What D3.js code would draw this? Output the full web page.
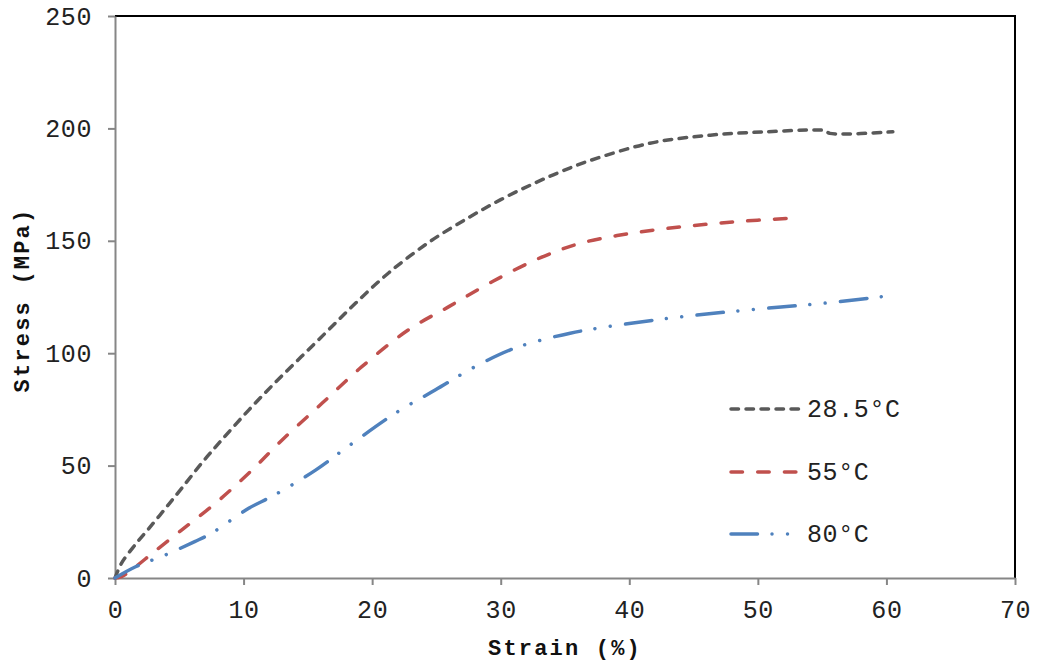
<!DOCTYPE html>
<html><head><meta charset="utf-8">
<script src="https://cdn.jsdelivr.net/npm/d3@7"></script>
<style>body{margin:0;background:#fff}svg{display:block}</style>
</head><body>
<svg id="c" width="1037" height="663"></svg>
<script>
const seriesNames = ["28.5°C", "55°C", "80°C"];
const strain285 = [0, 0.5, 1.6, 2.6, 3.9, 5.2, 6.7, 8.3, 10.4, 12.4, 14.5, 16.6, 18.7, 21.3, 24.4, 27.5, 30.0, 32.5, 34.7, 36.9, 41.6, 46.3, 50.7, 54.6, 55.2, 55.6, 60.5];
const stress285 = [0, 6.5, 15.0, 21.8, 30.8, 40.0, 50.8, 61.4, 74.7, 86.6, 98.5, 110.3, 122.2, 135.8, 149.3, 160.3, 168.3, 175.3, 180.8, 185.6, 193.4, 197, 198.5, 199.3, 199, 197.8, 198.5];
const strain55 = [0, 0.5, 1.6, 2.9, 5.2, 7.8, 10.4, 13.0, 16.1, 19.2, 22.8, 25.9, 29.4, 33.1, 36.2, 40.1, 44.2, 48.3, 52.4];
const stress55 = [0, 0.6, 5, 11, 21.4, 33.2, 46.6, 61.4, 77.7, 94, 110.3, 120.5, 132, 142.5, 148.9, 153.3, 156.3, 158.5, 160];
const strain80 = [0, 1.6, 3.9, 6.2, 7.5, 10.4, 12.4, 15.6, 18.1, 21.8, 24.9, 28.0, 30.7, 32.5, 35.4, 38.8, 44.2, 49.9, 55.6, 60.7];
const stress80 = [0, 5, 10.2, 16.2, 19.9, 31, 36.9, 48, 58.4, 73.3, 83.6, 94, 101.4, 104.8, 108.9, 112.2, 116.3, 119.6, 122.5, 125.9];
const xTicks = [0, 10, 20, 30, 40, 50, 60, 70];
const yTicks = [0, 50, 100, 150, 200, 250];
const colors = ["#595959", "#C0504D", "#4F81BD"];
const dashes = ["7.5,7.5", "11.5,15.2", "26.5,14.5,0.01,15.5,0.01,15.5"];

const svg = d3.select("#c");
const L = 115, R = 1015, T = 16, B = 578;
const x = d3.scaleLinear().domain([0, 70]).range([L, R]);
const y = d3.scaleLinear().domain([0, 250]).range([B, T]);
const font = "'Liberation Mono', 'Courier New', monospace";
const axisColor = "#868686";

// top and right frame
svg.append("path").attr("d", `M${L},${T}H${R}V${B}`).attr("fill", "none")
  .attr("stroke", "#000").attr("stroke-width", 2);

// x axis
const gx = svg.append("g").attr("transform", `translate(0,${B})`)
  .call(d3.axisBottom(x).tickValues(xTicks).tickSize(7).tickSizeOuter(0).tickPadding(15));
gx.select(".domain").attr("stroke", axisColor).attr("stroke-width", 2);
gx.selectAll(".tick line").attr("stroke", axisColor).attr("stroke-width", 2);
gx.selectAll(".tick text").attr("font-family", font).attr("font-size", 25).attr("fill", "#222")
  .attr("letter-spacing", 0.6);

// y axis
const gy = svg.append("g").attr("transform", `translate(${L},0)`)
  .call(d3.axisLeft(y).tickValues(yTicks).tickSize(7).tickSizeOuter(0).tickPadding(16));
gy.select(".domain").attr("stroke", axisColor).attr("stroke-width", 2);
gy.selectAll(".tick line").attr("stroke", axisColor).attr("stroke-width", 2);
gy.selectAll(".tick text").attr("font-family", font).attr("font-size", 25).attr("fill", "#222")
  .attr("letter-spacing", 0.6);

// axis titles
svg.append("text").attr("x", 565).attr("y", 655).attr("text-anchor", "middle")
  .attr("font-family", font).attr("font-weight", "bold").attr("font-size", 22)
  .attr("letter-spacing", 2.2).attr("fill", "#111").text("Strain (%)");
svg.append("text").attr("transform", `translate(29,${(T + B) / 2 + 3}) rotate(-90)`)
  .attr("text-anchor", "middle").attr("font-family", font).attr("font-weight", "bold")
  .attr("font-size", 22).attr("letter-spacing", 2.2).attr("fill", "#111").text("Stress (MPa)");

// series
const data = [
  d3.zip(strain285, stress285),
  d3.zip(strain55, stress55),
  d3.zip(strain80, stress80)
];
const line = d3.line().x(d => x(d[0])).y(d => y(d[1])).curve(d3.curveCatmullRom.alpha(0.5));
data.forEach((d, i) => {
  svg.append("path").datum(d).attr("d", line).attr("fill", "none")
    .attr("stroke", colors[i]).attr("stroke-width", 3.5)
    .attr("stroke-linecap", "round").attr("stroke-dasharray", dashes[i]);
});

// legend
const legY = [409, 472, 534];
seriesNames.forEach((n, i) => {
  svg.append("line").attr("x1", 731).attr("x2", 800).attr("y1", legY[i]).attr("y2", legY[i])
    .attr("stroke", colors[i]).attr("stroke-width", 3.5).attr("stroke-linecap", "round")
    .attr("stroke-dasharray", dashes[i]);
  svg.append("text").attr("x", 807).attr("y", legY[i] + 8).attr("font-family", font)
    .attr("font-size", 25).attr("letter-spacing", 0.6).attr("fill", "#222").text(n);
});
</script>
</body></html>
